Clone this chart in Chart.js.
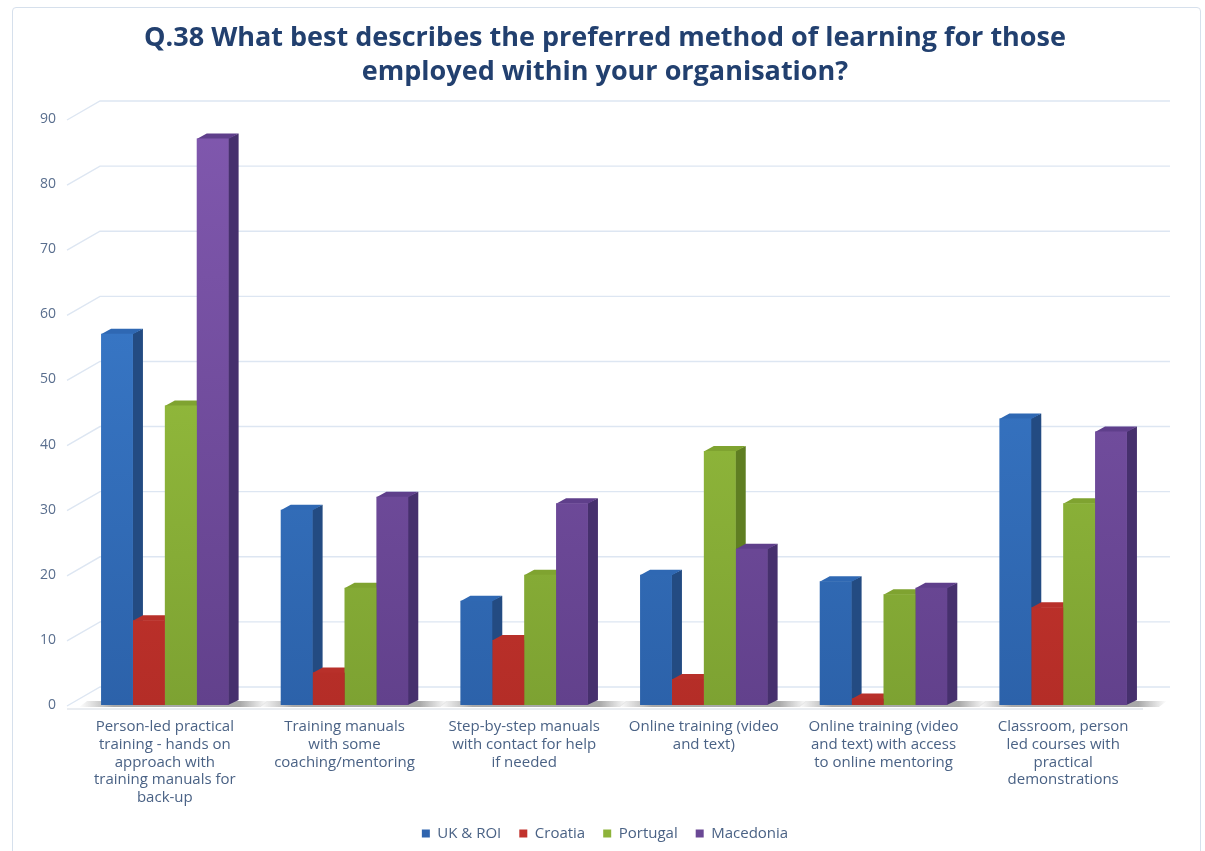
<!DOCTYPE html>
<html>
<head>
<meta charset="utf-8">
<script src="https://cdn.jsdelivr.net/npm/chart.js@4"></script>
<style>
  html, body { margin: 0; padding: 0; background: #ffffff; }
  #wrap { position: relative; width: 1205px; height: 851px; overflow: hidden; background: #fff; }
  #frame { position: absolute; left: 12px; top: 7px; width: 1187px; height: 900px; border: 1px solid #D6E0EC; border-radius: 4px; }
  canvas { position: absolute; left: 0; top: 0; }
</style>
</head>
<body>
<div id="wrap">
  <div id="frame"></div>
  <canvas id="c" width="1205" height="851"></canvas>
</div>
<script>
// ---- data ----
const titleLines = [
  "Q.38 What best describes the preferred method of learning for those",
  "employed within your organisation?"
];
const categories = [
  ["Person-led practical", "training - hands on", "approach with", "training manuals for", "back-up"],
  ["Training manuals", "with some", "coaching/mentoring"],
  ["Step-by-step manuals", "with contact for help", "if needed"],
  ["Online training (video", "and text)"],
  ["Online training (video", "and text) with access", "to online mentoring"],
  ["Classroom, person", "led courses with", "practical", "demonstrations"]
];
const seriesNames = ["UK & ROI", "Croatia", "Portugal", "Macedonia"];
const ukRoi     = [57, 30, 16, 20, 19, 44];
const croatia   = [13,  5, 10,  4,  1, 15];
const portugal  = [46, 18, 20, 39, 17, 31];
const macedonia = [87, 32, 31, 24, 18, 42];
const yTicks = [0, 10, 20, 30, 40, 50, 60, 70, 80, 90];

// ---- styles ----
const FONT = "'Open Sans', 'Liberation Sans', sans-serif";
const frontTop    = ["#3D80D2", "#D73E35", "#A0C942", "#8058AE"];
const frontBottom = ["#2C62AA", "#B42D27", "#7DA232", "#62418C"];
const sideColors  = ["#234B82", "#8B2521", "#5F7E22", "#46306D"];
const topColors   = ["#2F68B3", "#B8302A", "#7FA330", "#5F3F8B"];
const legendColors = ["#2F64AE", "#C1322C", "#8DB33A", "#6A4895"];
const D = 10, DY = 5;

function frontFill(i) {
  return (c) => {
    const chart = c.chart;
    const area = chart.chartArea;
    if (!area) return frontTop[i];
    const g = chart.ctx.createLinearGradient(0, area.top, 0, area.bottom);
    g.addColorStop(0, frontTop[i]);
    g.addColorStop(1, frontBottom[i]);
    return g;
  };
}

const depthPlugin = {
  id: 'depth3d',
  beforeDatasetsDraw(chart) {
    const { ctx, chartArea, scales } = chart;
    const y = scales.y;
    ctx.save();
    // back-wall gridlines with perspective slant
    ctx.strokeStyle = '#DDE6F2';
    ctx.lineWidth = 1.4;
    y.ticks.forEach(t => {
      const py = y.getPixelForValue(t.value);
      ctx.beginPath();
      ctx.moveTo(chartArea.left - 8, py + 1);
      ctx.lineTo(chartArea.left + 25, py - 18);
      ctx.lineTo(chartArea.right + 17, py - 18);
      ctx.stroke();
    });
    // front floor edge
    ctx.strokeStyle = '#D5DBE4';
    ctx.lineWidth = 1.2;
    ctx.beginPath();
    ctx.moveTo(chartArea.left - 8, chartArea.bottom + 4);
    ctx.lineTo(chartArea.right - 10, chartArea.bottom + 4);
    ctx.stroke();
    // floor shadows under each group
    const metas = chart.data.datasets.map((d, i) => chart.getDatasetMeta(i));
    const n = chart.data.labels.length;
    for (let k = 0; k < n; k++) {
      const first = metas[0].data[k].getProps(['x', 'width', 'base'], true);
      const last = metas[metas.length - 1].data[k].getProps(['x', 'width', 'base'], true);
      const l = first.x - first.width / 2 - 22;
      const r = last.x + last.width / 2 + D + 30;
      const b = first.base;
      const g = ctx.createLinearGradient(l, 0, r, 0);
      g.addColorStop(0, 'rgba(150,150,150,0)');
      g.addColorStop(0.18, 'rgba(140,140,140,0.75)');
      g.addColorStop(0.85, 'rgba(140,140,140,0.75)');
      g.addColorStop(1, 'rgba(150,150,150,0)');
      ctx.fillStyle = g;
      ctx.beginPath();
      ctx.moveTo(l, b + 2);
      ctx.lineTo(r - 8, b + 2);
      ctx.lineTo(r, b - 4);
      ctx.lineTo(l + 8, b - 4);
      ctx.closePath();
      ctx.fill();
    }
    // side and top faces
    metas.forEach((meta, di) => {
      meta.data.forEach(bar => {
        const p = bar.getProps(['x', 'y', 'base', 'width'], true);
        const l = p.x - p.width / 2, r = p.x + p.width / 2;
        ctx.fillStyle = sideColors[di];
        ctx.beginPath();
        ctx.moveTo(r - 0.5, p.y);
        ctx.lineTo(r + D, p.y - DY);
        ctx.lineTo(r + D, p.base - DY);
        ctx.lineTo(r - 0.5, p.base);
        ctx.closePath();
        ctx.fill();
        ctx.fillStyle = topColors[di];
        ctx.beginPath();
        ctx.moveTo(l, p.y + 0.5);
        ctx.lineTo(l + D, p.y - DY);
        ctx.lineTo(r + D, p.y - DY);
        ctx.lineTo(r, p.y + 0.5);
        ctx.closePath();
        ctx.fill();
      });
    });
    ctx.restore();
  }
};

const seriesValues = [ukRoi, croatia, portugal, macedonia];

new Chart(document.getElementById('c'), {
  type: 'bar',
  data: {
    labels: categories,
    datasets: seriesValues.map((vals, i) => ({
      label: seriesNames[i],
      data: vals,
      backgroundColor: frontFill(i),
      borderWidth: 0,
      categoryPercentage: 0.71,
      barPercentage: 1.0
    }))
  },
  options: {
    responsive: false,
    animation: false,
    layout: { padding: { top: 8, left: 15, right: 10, bottom: 0 } },
    plugins: {
      title: {
        display: true,
        text: titleLines,
        color: '#22406F',
        font: { family: FONT, size: 27, weight: 'bold', lineHeight: 34 / 27 },
        padding: { top: 13, bottom: 30 }
      },
      legend: {
        position: 'bottom',
        labels: {
          boxWidth: 8,
          boxHeight: 8,
          padding: 18,
          color: '#4A6285',
          font: { family: FONT, size: 15 },
          generateLabels: (chart) => seriesNames.map((name, i) => ({
            text: name,
            fillStyle: legendColors[i],
            strokeStyle: legendColors[i],
            lineWidth: 0,
            hidden: false,
            datasetIndex: i,
            fontColor: '#4A6285'
          }))
        }
      },
      tooltip: { enabled: false }
    },
    scales: {
      x: {
        afterFit: (s) => { s.height = 103; },
        grid: { display: false, drawTicks: false },
        border: { display: false },
        ticks: {
          color: '#4A6285',
          font: { family: FONT, size: 15, lineHeight: 17.7 / 15 },
          padding: 13,
          maxRotation: 0,
          autoSkip: false
        }
      },
      y: {
        min: 0,
        max: 90,
        afterFit: (s) => { s.width = 60; },
        afterBuildTicks: (s) => { s.ticks = yTicks.map(v => ({ value: v })); },
        grid: { display: false, drawTicks: false },
        border: { display: false },
        ticks: {
          color: '#596E8E',
          font: { family: FONT, size: 14 },
          padding: 19
        }
      },
      yRight: {
        position: 'right',
        afterFit: (s) => { s.width = 42; },
        grid: { display: false, drawTicks: false },
        border: { display: false },
        ticks: { display: false }
      }
    }
  },
  plugins: [depthPlugin]
});
</script>
</body>
</html>
